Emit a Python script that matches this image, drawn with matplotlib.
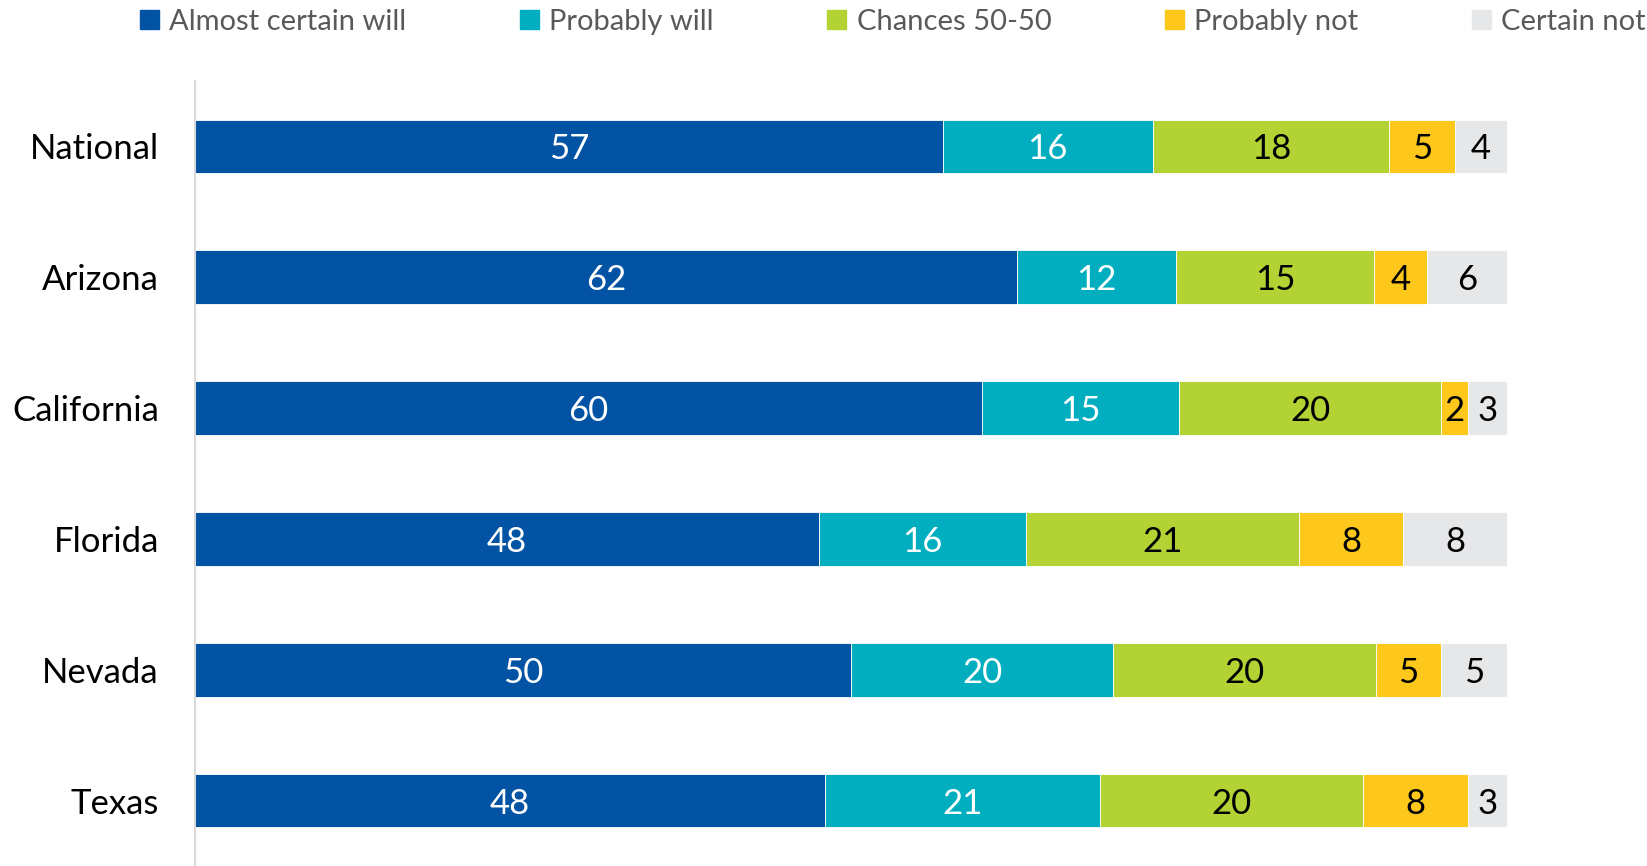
import numpy as np
import matplotlib.pyplot as plt
from matplotlib.patches import Patch

plt.rcParams['font.family'] = ['Lato', 'DejaVu Sans']

# chart data
states = ["National", "Arizona", "California", "Florida", "Nevada", "Texas"]
responses = ["Almost certain will", "Probably will", "Chances 50-50",
             "Probably not", "Certain not"]
almost_certain = [57, 62, 60, 48, 50, 48]
probably_will = [16, 12, 15, 16, 20, 21]
chances_5050 = [18, 15, 20, 21, 20, 20]
probably_not = [5, 4, 2, 8, 5, 8]
certain_not = [4, 6, 3, 8, 5, 3]

colors = ["#0353A4", "#00AEBF", "#B3D334", "#FDC71C", "#E6E7E9"]
label_colors = ["white", "white", "black", "black", "black"]


def plot_stacked_bars():
    series = np.array([almost_certain, probably_will, chances_5050,
                       probably_not, certain_not], dtype=float)
    # 100% stacked, like the original Excel chart
    shares = series / series.sum(axis=0) * 100

    fig = plt.figure(figsize=(16.47, 8.66), dpi=100)
    ax = fig.add_axes([0.1184, 0.0, 0.7966, 0.9065])

    y = np.arange(len(states))
    left = np.zeros(len(states))
    for i, name in enumerate(responses):
        bars = ax.barh(y, shares[i], left=left, height=0.41, color=colors[i],
                       edgecolor="white", linewidth=0.6, label=name)
        labels = ax.bar_label(bars, labels=[f"{v:.0f}" for v in series[i]],
                              label_type="center", color=label_colors[i],
                              fontsize=25)
        for t in labels:
            t.set_va("center_baseline")
        left += shares[i]

    ax.set_xlim(0, 100)
    ax.set_ylim(len(states) - 0.5, -0.5)
    ax.set_yticks(y)
    ax.set_yticklabels(states, fontsize=25)
    ax.set_xticks([])
    ax.tick_params(axis="y", length=0, pad=26)
    for side in ["top", "right", "bottom"]:
        ax.spines[side].set_visible(False)
    ax.spines["left"].set_color("#D9D9D9")
    ax.spines["left"].set_linewidth(1.5)

    handles = [Patch(color=c) for c in colors]
    leg = fig.legend(handles, responses, loc="center left",
                     bbox_to_anchor=(0.069, 0.975), ncol=5, frameon=False,
                     fontsize=21, handlelength=0.65, handleheight=0.65,
                     handletextpad=0.35, columnspacing=3.9)
    for t in leg.get_texts():
        t.set_color("#595959")

    fig.savefig("out.png", dpi=100)


if __name__ == "__main__":
    plot_stacked_bars()
